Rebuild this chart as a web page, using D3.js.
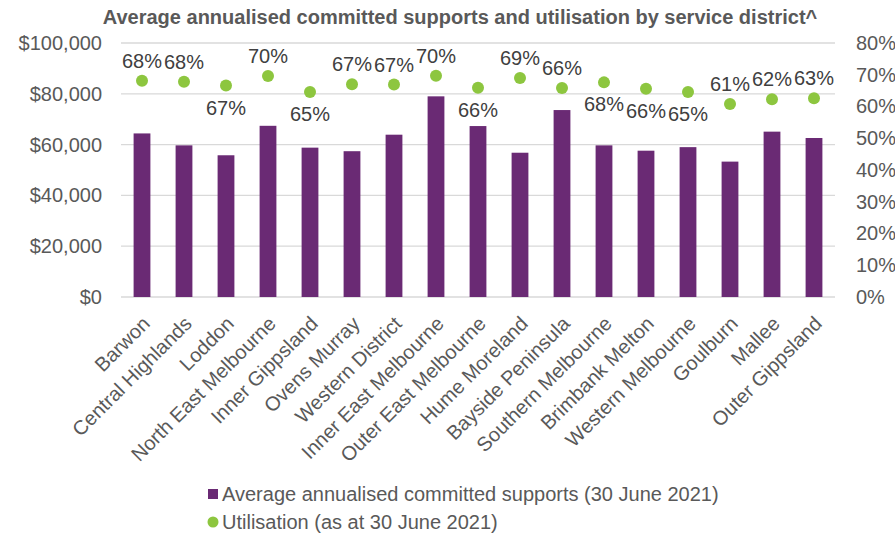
<!DOCTYPE html>
<html>
<head>
<meta charset="utf-8">
<script src="https://cdn.jsdelivr.net/npm/d3@7"></script>
<style>
  body { margin: 0; background: #fff; }
  text { font-family: "Liberation Sans", Arial, sans-serif; }
</style>
</head>
<body>
<svg id="chart"></svg>
<script>
const districts = ['Barwon', 'Central Highlands', 'Loddon', 'North East Melbourne', 'Inner Gippsland',
  'Ovens Murray', 'Western District', 'Inner East Melbourne', 'Outer East Melbourne', 'Hume Moreland',
  'Bayside Peninsula', 'Southern Melbourne', 'Brimbank Melton', 'Western Melbourne', 'Goulburn',
  'Mallee', 'Outer Gippsland'];
const supports = [64400, 59700, 55800, 67400, 58800, 57400, 63900, 79000, 67300, 56800,
  73600, 59700, 57600, 59000, 53300, 65100, 62600];
const utilisation = [0.681, 0.678, 0.666, 0.696, 0.646, 0.670, 0.669, 0.697, 0.659, 0.690,
  0.658, 0.676, 0.656, 0.646, 0.608, 0.623, 0.626];
// which labels sit under their dot
const labelBelow = [false, false, true, false, true, false, false, false, true, false,
  false, true, true, true, false, false, false];
const leftTicks = [0, 20000, 40000, 60000, 80000, 100000];
const rightTicks = [0, 0.1, 0.2, 0.3, 0.4, 0.5, 0.6, 0.7, 0.8];

const purple = '#6a2a74';
const green = '#8dc63f';
const grey = '#595959';

const width = 895, height = 539;
const margin = { top: 43, right: 60, bottom: 242, left: 121 };

const svg = d3.select('#chart').attr('width', width).attr('height', height);

const x = d3.scaleBand()
  .domain(districts)
  .range([margin.left, width - margin.right])
  .paddingInner(0.6)
  .paddingOuter(0.3);

const y = d3.scaleLinear().domain([0, 100000]).range([height - margin.bottom, margin.top]);
const y2 = d3.scaleLinear().domain([0, 0.8]).range([height - margin.bottom, margin.top]);

// gridlines
svg.append('g')
  .selectAll('line')
  .data(leftTicks)
  .join('line')
    .attr('x1', margin.left)
    .attr('x2', width - margin.right)
    .attr('y1', d => y(d))
    .attr('y2', d => y(d))
    .attr('stroke', '#d9d9d9')
    .attr('stroke-width', 1.3);

const leftAxis = svg.append('g')
  .attr('transform', `translate(${margin.left - 19},0)`)
  .call(d3.axisLeft(y).tickValues(leftTicks).tickSize(0).tickPadding(0)
    .tickFormat(d => '$' + d3.format(',')(d)));
leftAxis.select('.domain').remove();
leftAxis.selectAll('text').attr('fill', grey).style('font-size', '20px');

const rightAxis = svg.append('g')
  .attr('transform', `translate(${width - margin.right + 21},0)`)
  .call(d3.axisRight(y2).tickValues(rightTicks).tickSize(0).tickPadding(0)
    .tickFormat(d3.format('.0%')));
rightAxis.select('.domain').remove();
rightAxis.selectAll('text').attr('fill', grey).style('font-size', '20px');

// bars
svg.append('g')
  .selectAll('rect')
  .data(districts)
  .join('rect')
    .attr('x', d => x(d))
    .attr('width', x.bandwidth())
    .attr('y', (d, i) => y(supports[i]))
    .attr('height', (d, i) => y(0) - y(supports[i]))
    .attr('fill', purple);

// utilisation dots
svg.append('g')
  .selectAll('circle')
  .data(districts)
  .join('circle')
    .attr('cx', d => x(d) + x.bandwidth() / 2)
    .attr('cy', (d, i) => y2(utilisation[i]))
    .attr('r', 6)
    .attr('fill', green);

svg.append('g')
  .selectAll('text')
  .data(districts)
  .join('text')
    .attr('x', d => x(d) + x.bandwidth() / 2)
    .attr('y', (d, i) => y2(utilisation[i]) + (labelBelow[i] ? 29 : -13))
    .attr('text-anchor', 'middle')
    .attr('fill', '#404040')
    .style('font-size', '20px')
    .text((d, i) => d3.format('.0%')(utilisation[i]));

// x labels
svg.append('g')
  .selectAll('text')
  .data(districts)
  .join('text')
    .attr('transform', d => `translate(${x(d) + x.bandwidth() / 2 + 9},${y(0) + 28}) rotate(-45)`)
    .attr('text-anchor', 'end')
    .attr('fill', grey)
    .style('font-size', '20px')
    .text(d => d);

// title
svg.append('text')
  .attr('x', 460)
  .attr('y', 24)
  .attr('text-anchor', 'middle')
  .attr('fill', grey)
  .style('font-size', '20px')
  .style('font-weight', 'bold')
  .text('Average annualised committed supports and utilisation by service district^');

// legend
const legend = svg.append('g').attr('fill', grey).style('font-size', '20px');
legend.append('rect').attr('x', 208).attr('y', 489).attr('width', 10).attr('height', 10).attr('fill', purple);
legend.append('text').attr('x', 222).attr('y', 501).text('Average annualised committed supports (30 June 2021)');
legend.append('circle').attr('cx', 213).attr('cy', 522).attr('r', 5.5).attr('fill', green);
legend.append('text').attr('x', 222).attr('y', 529).text('Utilisation (as at 30 June 2021)');
</script>
</body>
</html>
